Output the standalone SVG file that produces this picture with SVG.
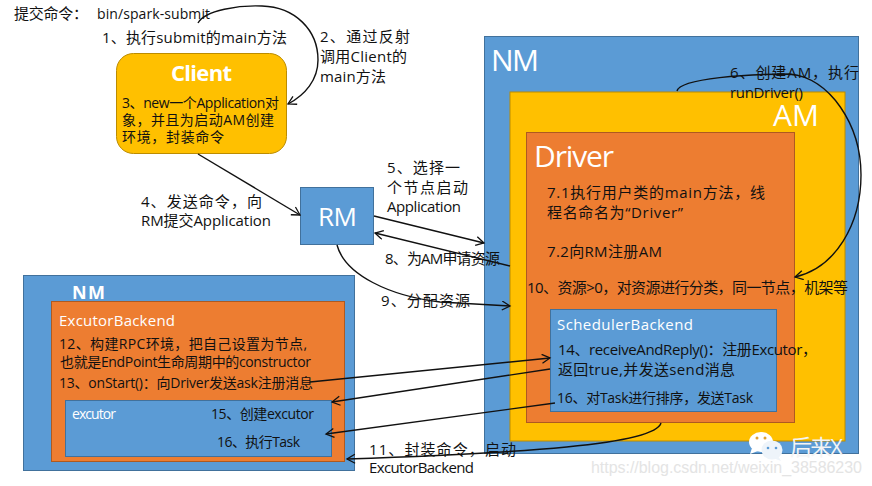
<svg xmlns="http://www.w3.org/2000/svg" width="872" height="486" viewBox="0 0 872 486">
<defs>
<marker id="a" markerWidth="12" markerHeight="12" refX="9" refY="5" orient="auto" markerUnits="userSpaceOnUse"><path d="M1,0.5 L9,5 L1,9.5" fill="none" stroke="#111" stroke-width="1.3"/></marker>
</defs>
<style>
text{font-family:"Open Sans","Noto Sans CJK SC",sans-serif;font-size:15px;fill:#111}
.w{fill:#fff}
.blue{fill:#5b9bd5;stroke:#41719c;stroke-width:1}
.or{fill:#ed7d31;stroke:#ae5a21;stroke-width:1}
.ye{fill:#ffc000;stroke:#bc8c00;stroke-width:1}
.c{fill:none;stroke:#111;stroke-width:1.4;marker-end:url(#a)}
</style>
<g id="nm-right">
<rect class="blue" x="484.500" y="36.500" width="374" height="417"/>
<text class="w" x="491" y="71" textLength="48" style="font-size:30px">NM</text>
</g>
<g id="am">
<rect class="ye" x="510" y="92" width="335" height="349"/>
<text class="w" x="773" y="126" textLength="46" style="font-size:30px">AM</text>
</g>
<g id="driver">
<rect class="or" x="526.500" y="132.500" width="268" height="290"/>
<text class="w" x="534" y="167" textLength="80" style="font-size:30px">Driver</text>
<text x="547" y="198" textLength="218">7.1执行用户类的main方法，线</text>
<text x="547" y="218" textLength="136">程名命名为“Driver”</text>
<text x="547" y="257" textLength="115">7.2向RM注册AM</text>
<text x="527" y="293" textLength="321">10、资源&gt;0，对资源进行分类，同一节点，机架等</text>
</g>
<g id="scheduler">
<rect class="blue" x="550.500" y="309.500" width="226" height="102"/>
<text class="w" x="557" y="330" textLength="136">SchedulerBackend</text>
<text x="558" y="355" textLength="259">14、receiveAndReply()：注册Excutor，</text>
<text x="558" y="375" textLength="177">返回true,并发送send消息</text>
<text x="557" y="403" textLength="196" style="font-size:14px">16、对Task进行排序，发送Task</text>
</g>
<g id="client">
<rect class="ye" x="116.500" y="53.500" width="170" height="100" rx="17"/>
<text class="w" x="171" y="81" textLength="61" style="font-size:22px;font-weight:700">Client</text>
<text x="122" y="108" textLength="157" style="font-size:14px">3、new一个Application对</text>
<text x="122" y="125" textLength="152" style="font-size:14px">象，并且为启动AM创建</text>
<text x="122" y="142" textLength="102" style="font-size:14px">环境，封装命令</text>
</g>
<g id="rm">
<rect class="blue" x="300.500" y="187.500" width="73" height="57"/>
<text class="w" x="318" y="226" textLength="39" style="font-size:26px">RM</text>
</g>
<g id="nm-left">
<rect class="blue" x="23.500" y="275.500" width="331" height="195"/>
<text class="w" x="72" y="299" textLength="33" style="font-size:18px;font-weight:700">NM</text>
</g>
<g id="excutor-backend">
<rect class="or" x="51.500" y="301.500" width="293" height="160"/>
<text class="w" x="59" y="326" textLength="116">ExcutorBackend</text>
<text x="59" y="349" textLength="248" style="font-size:14px">12、构建RPC环境，把自己设置为节点,</text>
<text x="60" y="367" textLength="251" style="font-size:14px">也就是EndPoint生命周期中的constructor</text>
<text x="59" y="388" textLength="254" style="font-size:14px">13、onStart()：向Driver发送ask注册消息</text>
</g>
<g id="excutor">
<rect class="blue" x="65.500" y="400.500" width="266" height="56"/>
<text class="w" x="72" y="419" textLength="44" style="font-size:14px">excutor</text>
<text x="211" y="419" textLength="103" style="font-size:14px">15、创建excutor</text>
<text x="217" y="447" textLength="83" style="font-size:14px">16、执行Task</text>
</g>
<g id="connectors">
<path class="c" d="M198,23 C205,10 240,5 262,6 C295,7 318,30 318,60 C318,80 305,95 288,104"/>
<path class="c" d="M198,154 L300,215"/>
<path class="c" d="M374,216 L484,243"/>
<path class="c" d="M510,266 L375,233"/>
<path class="c" d="M337,245 C345,275 390,296 440,302 L510,306"/>
<path class="c" d="M677,91 C680,78 750,74 790,74 C830,78 861,125 861,175 C861,225 835,268 795,277"/>
<path class="c" d="M310,382 L550,358"/>
<path class="c" d="M550,369 L332,402"/>
<path class="c" d="M555,403 L326,434"/>
<path class="c" d="M661,423 C655,445 520,453 347,459"/>
</g>
<g id="labels">
<text x="14" y="19" textLength="74">提交命令：</text>
<text x="97" y="19" textLength="113" style="font-size:14px">bin/spark-submit</text>
<text x="102" y="43" textLength="185">1、执行submit的main方法</text>
<text x="320" y="42" textLength="90">2、通过反射</text>
<text x="320" y="62" textLength="87">调用Client的</text>
<text x="320" y="82" textLength="66">main方法</text>
<text x="141" y="207" textLength="121">4、发送命令，向</text>
<text x="141" y="226" textLength="130">RM提交Application</text>
<text x="387" y="173" textLength="73">5、选择一</text>
<text x="387" y="193" textLength="81">个节点启动</text>
<text x="387" y="212" textLength="74">Application</text>
<text x="730" y="78" textLength="129">6、创建AM，执行</text>
<text x="730" y="98" textLength="73">runDriver()</text>
<text x="385" y="264" textLength="115">8、为AM申请资源</text>
<text x="381" y="306" textLength="89">9、分配资源</text>
<text x="369" y="455" textLength="147">11、封装命令，启动</text>
<text x="369" y="473" textLength="105">ExcutorBackend</text>
</g>
<g id="watermark">
<ellipse cx="761" cy="442" rx="12" ry="10" fill="#fff"/>
<path d="M752,448 L750,454 L758,451Z" fill="#fff"/>
<ellipse cx="772" cy="450" rx="10.500" ry="9.500" fill="#eef4fa"/>
<path d="M778,456 L781,461 L773,458Z" fill="#eef4fa"/>
<circle cx="757" cy="438" r="1.500" fill="#e0a030"/><circle cx="765" cy="438" r="1.500" fill="#e0a030"/>
<circle cx="768" cy="448" r="1.300" fill="#5b9bd5"/><circle cx="776" cy="448" r="1.300" fill="#5b9bd5"/>
<text x="790" y="455" textLength="53" style="font-size:22px;fill:#f4f4f4">后来X</text>
<text x="591" y="473" textLength="271" style="font-size:16px;fill:#e4e4e4;font-family:'Liberation Sans',sans-serif">https://blog.csdn.net/weixin_38586230</text>
</g>
</svg>
